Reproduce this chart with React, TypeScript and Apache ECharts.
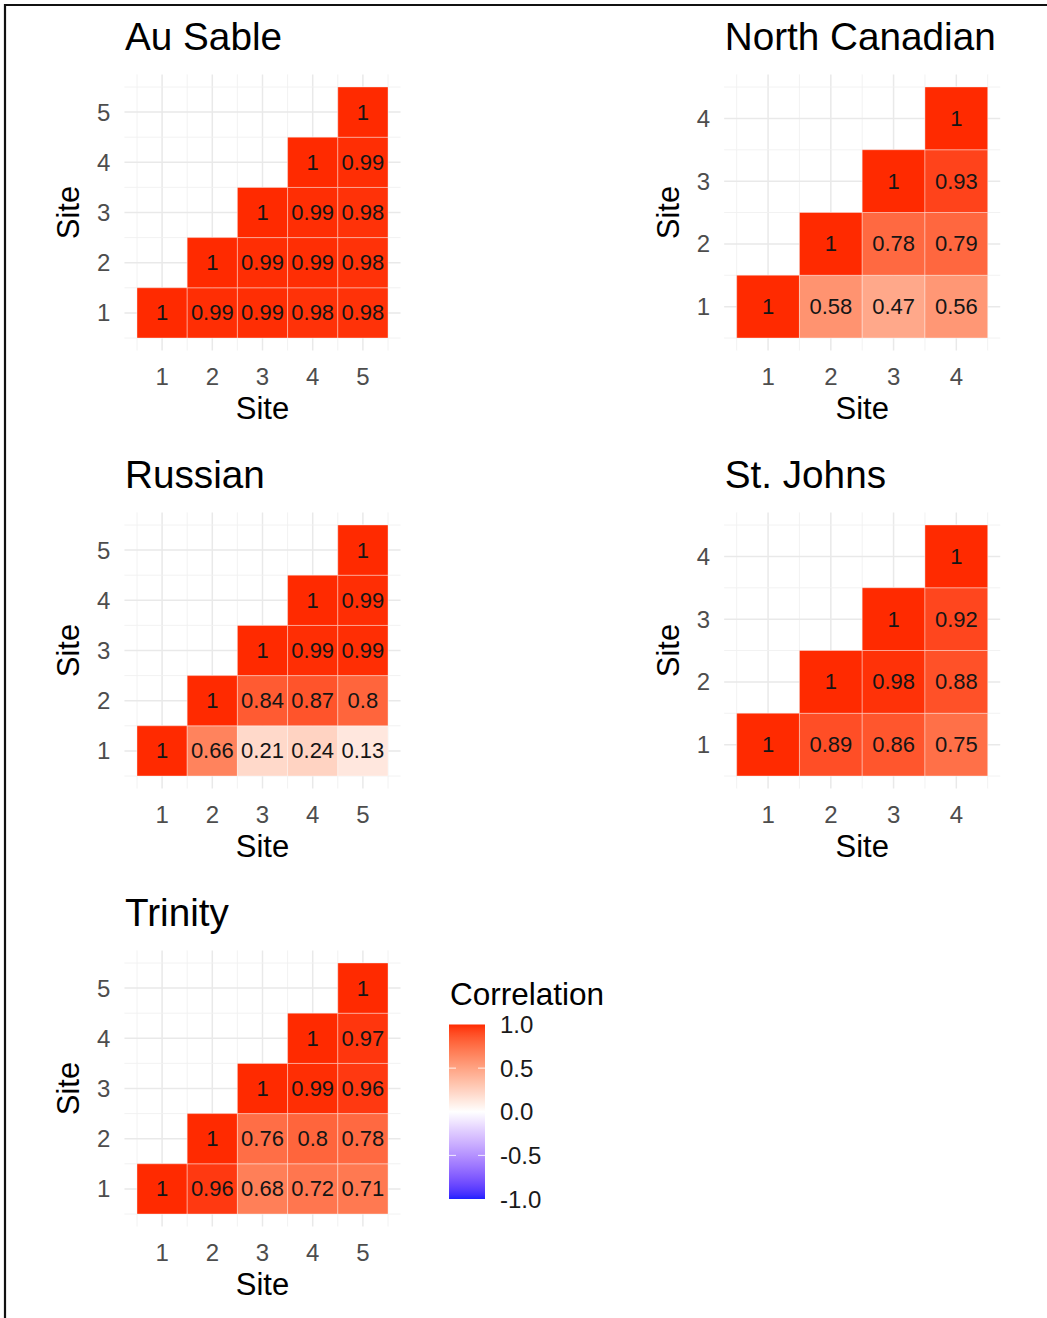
import React, { useEffect, useRef } from "react";
import * as echarts from "echarts";

// River names, one facet each
const RIVERS = ["Au Sable", "North Canadian", "Russian", "St. Johns", "Trinity"];

// Upper-triangle correlations: row r is site r+1 on the y axis,
// its entries run over sites r+1..n on the x axis.
const auSable = [
  [1, 0.99, 0.99, 0.98, 0.98],
  [1, 0.99, 0.99, 0.98],
  [1, 0.99, 0.98],
  [1, 0.99],
  [1],
];
const northCanadian = [
  [1, 0.58, 0.47, 0.56],
  [1, 0.78, 0.79],
  [1, 0.93],
  [1],
];
const russian = [
  [1, 0.66, 0.21, 0.24, 0.13],
  [1, 0.84, 0.87, 0.8],
  [1, 0.99, 0.99],
  [1, 0.99],
  [1],
];
const stJohns = [
  [1, 0.89, 0.86, 0.75],
  [1, 0.98, 0.88],
  [1, 0.92],
  [1],
];
const trinity = [
  [1, 0.96, 0.68, 0.72, 0.71],
  [1, 0.76, 0.8, 0.78],
  [1, 0.99, 0.96],
  [1, 0.97],
  [1],
];
const MATRICES = [auSable, northCanadian, russian, stJohns, trinity];

const LEGEND_BREAKS = [1, 0.5, 0, -0.5, -1];
const AXIS_TITLE = "Site";
const LEGEND_TITLE = "Correlation";

// Layout: top-left corner of each facet's tile block, and the block's side length
const PANEL_POS: [number, number][] = [
  [137, 87],
  [736.7, 87],
  [137, 525],
  [736.7, 525],
  [137, 963],
];
const TILE_SPAN = 251;
const FONT = '"Liberation Sans", Arial, Helvetica, sans-serif';

// Diverging scale blue - white - red, interpolated in CIE Lab
const HIGH = "#ff2a00";
const MID = "#ffffff";
const LOW = "#2020ff";

function hexToRgb(h: string): number[] {
  const s = h.replace("#", "");
  return [0, 2, 4].map((i) => parseInt(s.slice(i, i + 2), 16));
}
function toLinear(c: number) {
  const v = c / 255;
  return v <= 0.04045 ? v / 12.92 : Math.pow((v + 0.055) / 1.055, 2.4);
}
function fromLinear(c: number) {
  const v = c <= 0.0031308 ? 12.92 * c : 1.055 * Math.pow(c, 1 / 2.4) - 0.055;
  return Math.round(Math.max(0, Math.min(1, v)) * 255);
}
const XN = 0.95047, YN = 1, ZN = 1.08883;
function rgbToLab(rgb: number[]): number[] {
  const [r, g, b] = rgb.map(toLinear);
  const X = (0.4124564 * r + 0.3575761 * g + 0.1804375 * b) / XN;
  const Y = (0.2126729 * r + 0.7151522 * g + 0.072175 * b) / YN;
  const Z = (0.0193339 * r + 0.119192 * g + 0.9503041 * b) / ZN;
  const f = (t: number) => (t > 0.008856 ? Math.cbrt(t) : 7.787 * t + 16 / 116);
  const fx = f(X), fy = f(Y), fz = f(Z);
  return [116 * fy - 16, 500 * (fx - fy), 200 * (fy - fz)];
}
function labToRgb(lab: number[]): number[] {
  const fy = (lab[0] + 16) / 116;
  const fx = fy + lab[1] / 500;
  const fz = fy - lab[2] / 200;
  const inv = (t: number) => (t * t * t > 0.008856 ? t * t * t : (t - 16 / 116) / 7.787);
  const X = inv(fx) * XN, Y = inv(fy) * YN, Z = inv(fz) * ZN;
  const r = 3.2404542 * X - 1.5371385 * Y - 0.4985314 * Z;
  const g = -0.969266 * X + 1.8760108 * Y + 0.041556 * Z;
  const b = 0.0556434 * X - 0.2040259 * Y + 1.0572252 * Z;
  return [fromLinear(r), fromLinear(g), fromLinear(b)];
}
const LAB_HIGH = rgbToLab(hexToRgb(HIGH));
const LAB_MID = rgbToLab(hexToRgb(MID));
const LAB_LOW = rgbToLab(hexToRgb(LOW));

function corrColor(v: number): string {
  const t = Math.min(1, Math.abs(v));
  const end = v >= 0 ? LAB_HIGH : LAB_LOW;
  const lab = LAB_MID.map((m, i) => m + (end[i] - m) * t);
  const [r, g, b] = labToRgb(lab);
  return `rgb(${r},${g},${b})`;
}

function buildOption() {
  const grids: any[] = [];
  const xAxes: any[] = [];
  const yAxes: any[] = [];
  const series: any[] = [];
  const graphics: any[] = [];

  RIVERS.forEach((river, i) => {
    const rows = MATRICES[i];
    const n = rows.length;
    const [tl, tt] = PANEL_POS[i];
    const pad = 0.05 * TILE_SPAN;
    grids.push({
      left: tl - pad,
      top: tt - pad,
      width: TILE_SPAN + 2 * pad,
      height: TILE_SPAN + 2 * pad,
      containLabel: false,
    });
    const lo = 0.5 - 0.05 * n;
    const hi = n + 0.5 + 0.05 * n;
    const sites = rows.map((_, k) => k + 1);
    const axisBase = {
      type: "value",
      gridIndex: i,
      min: lo,
      max: hi,
      axisLine: { show: false },
      axisTick: { show: false },
      splitLine: { show: false },
      name: AXIS_TITLE,
      nameLocation: "middle",
      nameTextStyle: { fontSize: 31, color: "#000", fontFamily: FONT },
    };
    xAxes.push({
      ...axisBase,
      nameGap: 42,
      axisLabel: { customValues: sites, fontSize: 24, color: "#4d4d4d", margin: 14, fontFamily: FONT },
    });
    yAxes.push({
      ...axisBase,
      nameGap: 40,
      axisLabel: { customValues: sites, fontSize: 24, color: "#4d4d4d", margin: 14, fontFamily: FONT },
    });

    // Panel grid: major lines at each site, minor lines halfway between
    const gridValues: number[][] = [];
    for (let k = 1; k <= 2 * n + 1; k++) gridValues.push([k / 2, k / 2]);
    series.push({
      type: "custom",
      xAxisIndex: i,
      yAxisIndex: i,
      z: 1,
      silent: true,
      data: gridValues,
      encode: { x: 0, y: 1 },
      renderItem: (params: any, api: any) => {
        const v = api.value(0);
        const p = api.coord([v, v]);
        const cs = params.coordSys;
        const major = Number.isInteger(v);
        const style = { stroke: major ? "#e9e9e9" : "#f1f1f1", lineWidth: major ? 1.5 : 0.9 };
        return {
          type: "group",
          children: [
            { type: "line", shape: { x1: p[0], y1: cs.y, x2: p[0], y2: cs.y + cs.height }, style },
            { type: "line", shape: { x1: cs.x, y1: p[1], x2: cs.x + cs.width, y2: p[1] }, style },
          ],
        };
      },
    });

    // Correlation tiles
    const cells: number[][] = [];
    rows.forEach((row, r) => row.forEach((v, c) => cells.push([r + 1 + c, r + 1, v])));
    series.push({
      type: "custom",
      name: river,
      xAxisIndex: i,
      yAxisIndex: i,
      z: 2,
      data: cells,
      encode: { x: 0, y: 1 },
      renderItem: (params: any, api: any) => {
        const x = api.value(0);
        const y = api.value(1);
        const v = api.value(2);
        const c = api.coord([x, y]);
        const s = api.size([1, 1]);
        return {
          type: "group",
          children: [
            {
              type: "rect",
              shape: { x: c[0] - s[0] / 2, y: c[1] - s[1] / 2, width: s[0], height: s[1] },
              style: { fill: corrColor(v), stroke: "rgba(255,255,255,0.45)", lineWidth: 0.8 },
            },
            {
              type: "text",
              style: {
                text: String(v),
                x: c[0],
                y: c[1],
                align: "center",
                verticalAlign: "middle",
                textAlign: "center",
                textVerticalAlign: "middle",
                fontSize: 22,
                fontFamily: FONT,
                fill: "#151515",
              },
            },
          ],
        };
      },
    });

    // Facet title
    graphics.push({
      type: "text",
      x: tl - 12,
      y: tt - 51,
      style: {
        text: river,
        align: "left",
        verticalAlign: "middle",
        textAlign: "left",
        textVerticalAlign: "middle",
        fontSize: 38.7,
        fontFamily: FONT,
        fill: "#000",
      },
    });
  });

  // Colour bar legend
  const barX = 449, barTop = 1024.5, barW = 36, barH = 174.5;
  const yOf = (v: number) => barTop + ((1 - v) / 2) * barH;
  const stops: any[] = [];
  for (let k = 0; k <= 40; k++) {
    const v = 1 - k / 20;
    stops.push({ offset: k / 40, color: corrColor(v) });
  }
  graphics.push({
    type: "text",
    x: 450,
    y: 994,
    style: {
      text: LEGEND_TITLE,
      align: "left",
      verticalAlign: "middle",
      textAlign: "left",
      textVerticalAlign: "middle",
      fontSize: 31.5,
      fontFamily: FONT,
      fill: "#000",
    },
  });
  graphics.push({
    type: "rect",
    shape: { x: barX, y: barTop, width: barW, height: barH },
    style: {
      fill: { type: "linear", x: 0, y: 0, x2: 0, y2: 1, colorStops: stops },
    },
  });
  LEGEND_BREAKS.forEach((v) => {
    const y = yOf(v);
    if (v < 1 && v > -1) {
      graphics.push({
        type: "line",
        shape: { x1: barX, y1: y, x2: barX + 7, y2: y },
        style: { stroke: "rgba(255,255,255,0.85)", lineWidth: 1 },
      });
      graphics.push({
        type: "line",
        shape: { x1: barX + barW - 7, y1: y, x2: barX + barW, y2: y },
        style: { stroke: "rgba(255,255,255,0.85)", lineWidth: 1 },
      });
    }
    graphics.push({
      type: "text",
      x: 500,
      y,
      style: {
        text: v.toFixed(1),
        align: "left",
        verticalAlign: "middle",
        textAlign: "left",
        textVerticalAlign: "middle",
        fontSize: 24,
        fontFamily: FONT,
        fill: "#1a1a1a",
      },
    });
  });

  // Frame lines along the top and left edges
  graphics.push({
    type: "line",
    shape: { x1: 4, y1: 5, x2: 1047, y2: 5 },
    style: { stroke: "#111", lineWidth: 2.2 },
  });
  graphics.push({
    type: "line",
    shape: { x1: 5, y1: 4, x2: 5, y2: 1318 },
    style: { stroke: "#111", lineWidth: 2.2 },
  });

  return {
    animation: false,
    backgroundColor: "#ffffff",
    grid: grids,
    xAxis: xAxes,
    yAxis: yAxes,
    series,
    graphic: graphics,
  };
}

export default function App() {
  const ref = useRef<HTMLDivElement>(null);
  useEffect(() => {
    if (!ref.current) return;
    const chart = echarts.init(ref.current, null, { renderer: "svg" });
    chart.setOption(buildOption() as any);
    return () => chart.dispose();
  }, []);
  return (
    <div
      ref={ref}
      style={{ position: "absolute", left: 0, top: 0, width: 1047, height: 1318, background: "#fff" }}
    />
  );
}
